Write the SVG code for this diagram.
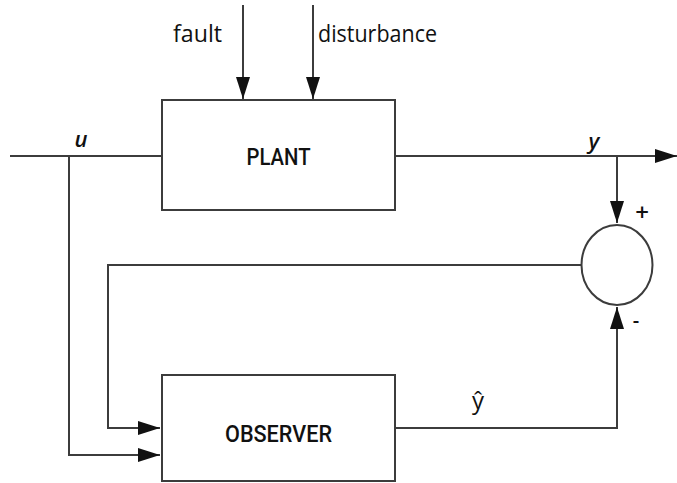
<svg xmlns="http://www.w3.org/2000/svg" width="677" height="483" viewBox="0 0 677 483">
  <style>
    .box { fill: #ffffff; stroke: #3c3c3c; stroke-width: 2; }
    .wire { fill: none; stroke: #3c3c3c; stroke-width: 2; }
    .lbl { font-family: "Open Sans", "Liberation Sans", sans-serif; fill: #111111; }
    .name { font-family: Roboto, "Open Sans", sans-serif; font-weight: 500; fill: #111111; }
    .sym { font-family: "Open Sans", "Liberation Sans", sans-serif; font-style: italic; font-weight: 600; fill: #111111; }
  </style>
  <defs>
    <marker id="arrow" viewBox="0 0 22 14" refX="22" refY="7" markerWidth="22" markerHeight="14" markerUnits="userSpaceOnUse" orient="auto">
      <path d="M0,0 L22,7 L0,14 Z" fill="#111"/>
    </marker>
  </defs>

  <rect width="677" height="483" fill="#ffffff"/>

  <g id="connectors">
    <!-- input u into plant, with branch down to observer -->
    <path class="wire" d="M10,156 H162"/>
    <path class="wire" d="M69,156 V455 H160" marker-end="url(#arrow)"/>
    <!-- fault and disturbance inputs -->
    <path class="wire" d="M243,5 V99" marker-end="url(#arrow)"/>
    <path class="wire" d="M313,5 V99" marker-end="url(#arrow)"/>
    <!-- plant output y -->
    <path class="wire" d="M395,156 H677" marker-end="url(#arrow)"/>
    <path class="wire" d="M617,156 V223" marker-end="url(#arrow)"/>
    <!-- residual fed back to observer -->
    <path class="wire" d="M581,265 H108 V428 H160" marker-end="url(#arrow)"/>
    <!-- observer estimate to summing junction -->
    <path class="wire" d="M395,428 H617 V307" marker-end="url(#arrow)"/>
  </g>

  <g id="plant">
    <rect class="box" x="162" y="100" width="233" height="110"/>
    <text class="name" x="278.5" y="165" font-size="23" text-anchor="middle" textLength="64" lengthAdjust="spacingAndGlyphs">PLANT</text>
  </g>

  <g id="observer">
    <rect class="box" x="162" y="375" width="233" height="106"/>
    <text class="name" x="278.5" y="442" font-size="24" text-anchor="middle" textLength="107" lengthAdjust="spacingAndGlyphs">OBSERVER</text>
  </g>

  <g id="sum">
    <ellipse class="box" cx="617" cy="265" rx="35.5" ry="40"/>
    <text class="lbl" x="642" y="221" font-size="24" font-weight="600" text-anchor="middle">+</text>
    <text class="lbl" x="636" y="327" font-size="20" font-weight="600" text-anchor="middle">-</text>
  </g>

  <g id="labels">
    <text class="lbl" x="173" y="42" font-size="23" textLength="49" lengthAdjust="spacingAndGlyphs">fault</text>
    <text class="lbl" x="318" y="42" font-size="23" textLength="119" lengthAdjust="spacingAndGlyphs">disturbance</text>
    <text class="sym" x="81" y="147" font-size="22" text-anchor="middle">u</text>
    <text class="sym" x="594" y="149" font-size="22" text-anchor="middle">y</text>
    <text class="lbl" x="478" y="409" font-size="24" text-anchor="middle">ŷ</text>
  </g>
</svg>
